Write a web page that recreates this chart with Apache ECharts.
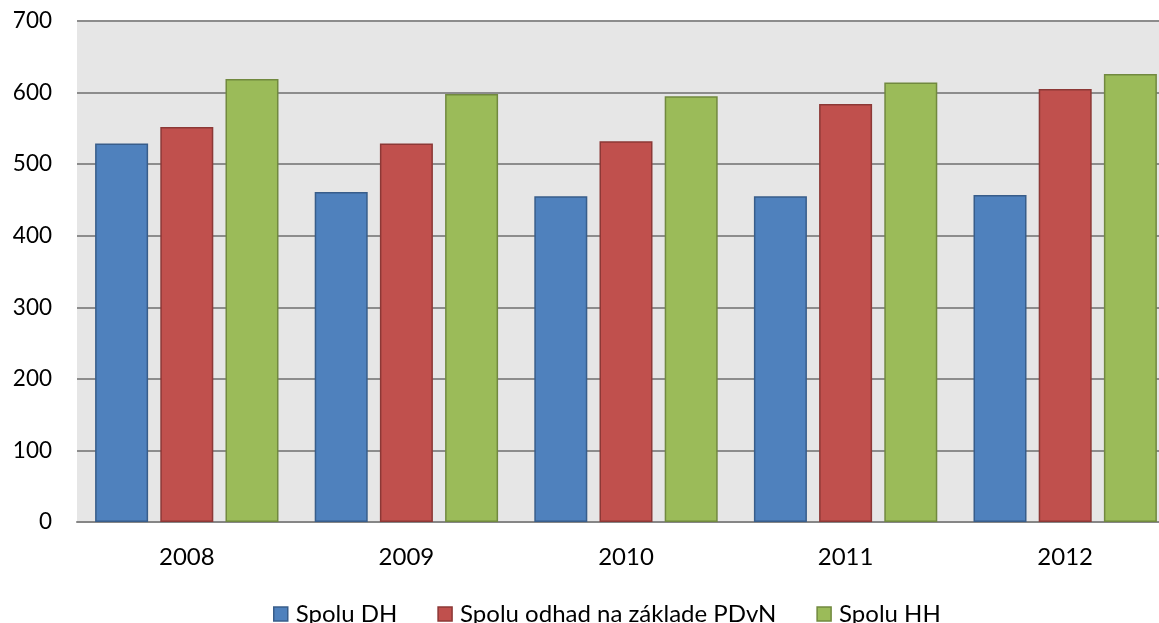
<!DOCTYPE html>
<html>
<head>
<meta charset="utf-8">
<script src="https://cdn.jsdelivr.net/npm/echarts@6/dist/echarts.min.js"></script>
<style>
html,body{margin:0;padding:0;background:#fff;}
#chart{width:1159px;height:623px;}
</style>
</head>
<body>
<div id="chart"></div>
<script>
const categories = ['2008', '2009', '2010', '2011', '2012'];
const seriesNames = ['Spolu DH', 'Spolu odhad na základe PDvN', 'Spolu HH'];
const spoluDH = [529, 461, 455, 455, 457];
const spoluOdhad = [552, 529, 532, 584, 605];
const spoluHH = [619, 598, 595, 614, 626];
const yTicks = [0, 100, 200, 300, 400, 500, 600, 700];

const fills = ['#4f81bd', '#c0504d', '#9bbb59'];
const borders = ['#385d8a', '#8c3836', '#71893f'];
const values = [spoluDH, spoluOdhad, spoluHH];

const chart = echarts.init(document.getElementById('chart'));
const font = 'Lato, "Open Sans", sans-serif';
chart.setOption({
  animation: false,
  textStyle: { fontFamily: font },
  grid: {
    left: 77, width: 1098, top: 21, bottom: 101,
    outerBoundsMode: 'none',
    containLabel: false,
    show: true, backgroundColor: '#e6e6e6', borderWidth: 0
  },
  legend: {
    top: 602,
    left: 273,
    padding: 0,
    itemWidth: 14,
    itemHeight: 14,
    itemGap: 40,
    icon: 'rect',
    textStyle: { fontSize: 24, color: '#000', fontFamily: font, padding: [0, 0, 0, 3] },
    data: seriesNames.map((n, i) => ({
      name: n,
      itemStyle: { color: fills[i], borderColor: borders[i], borderWidth: 1.5 }
    }))
  },
  xAxis: {
    type: 'category',
    data: categories,
    axisTick: { show: false },
    axisLine: { lineStyle: { color: '#868686', width: 2 } },
    axisLabel: { fontSize: 24, color: '#000', margin: 23, fontFamily: font }
  },
  yAxis: {
    type: 'value',
    min: yTicks[0],
    max: yTicks[yTicks.length - 1],
    interval: 100,
    axisLine: { show: false },
    axisTick: { show: false },
    splitLine: { lineStyle: { color: '#8c8c8c', width: 2 } },
    axisLabel: { fontSize: 22.5, color: '#000', margin: 25, fontFamily: font }
  },
  series: seriesNames.map((n, i) => ({
    name: n,
    type: 'bar',
    data: values[i],
    barWidth: 53,
    barGap: '23%',
    itemStyle: { color: fills[i], borderColor: borders[i], borderWidth: 1.5 }
  }))
});
</script>
</body>
</html>
